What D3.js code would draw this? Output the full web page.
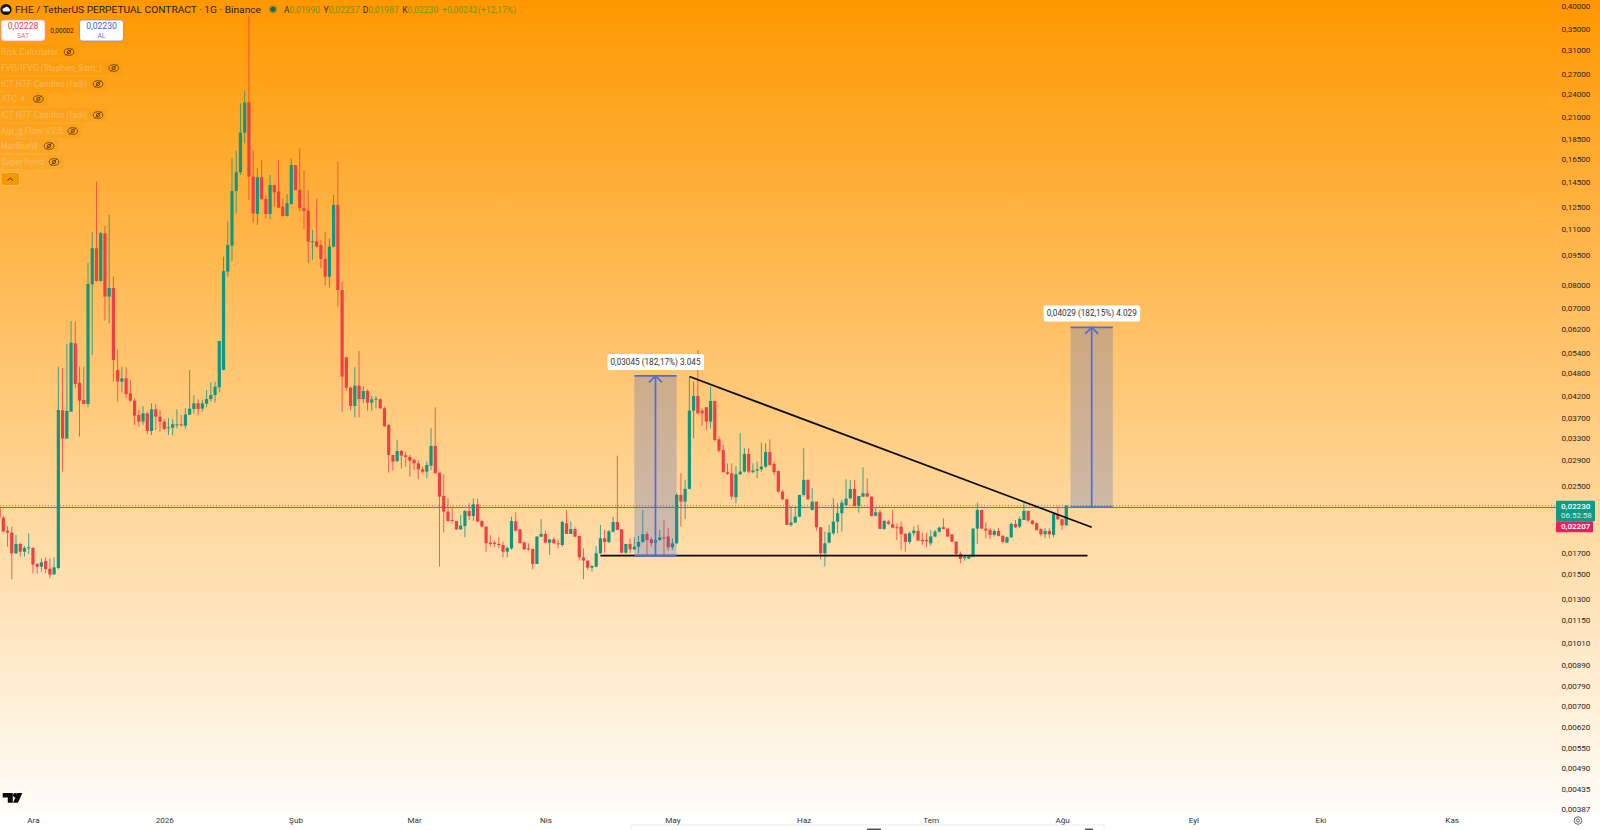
<!DOCTYPE html>
<html><head><meta charset="utf-8"><style>html,body{margin:0;padding:0;background:#fff;overflow:hidden}svg{display:block}text{font-family:Roboto,"Open Sans",sans-serif}</style>
<script src="https://cdn.jsdelivr.net/npm/d3@7"></script></head><body><svg id="c" width="1600" height="830"></svg>
<script>
const firstDay = "2025-11-23";
const opens = [0.02196,0.02081,0.01931,0.01909,0.01694,0.01788,0.01710,0.01743,0.01747,0.01593,0.01568,0.01620,0.01550,0.01500,0.01556,0.03868,0.03284,0.03838,0.05694,0.04537,0.04105,0.04012,
0.08007,0.09857,0.08162,0.10748,0.07457,0.07839,0.04882,0.04564,0.04652,0.04266,0.04090,0.03765,0.03623,0.03801,0.03433,0.03890,0.03729,0.03623,0.03486,0.03499,0.03547,0.03567,
0.03540,0.03772,0.03897,0.04027,0.03905,0.04019,0.04129,0.04226,0.04417,0.04883,0.08614,0.10010,0.13724,0.15286,0.19220,0.22899,0.14909,0.12018,0.14851,0.13105,0.12018,0.14208,
0.13672,0.12538,0.11880,0.12732,0.15947,0.13804,0.12417,0.12251,0.10224,0.10263,0.10048,0.09268,0.08369,0.09952,0.12659,0.07749,0.05252,0.04408,0.03966,0.04460,0.04129,0.04324,
0.04043,0.04121,0.04121,0.03913,0.03554,0.02988,0.02887,0.03058,0.02983,0.02954,0.02903,0.02848,0.02751,0.02714,0.02810,0.03148,0.02699,0.02358,0.02155,0.02053,0.02041,0.01946,
0.01983,0.02163,0.02101,0.02248,0.02041,0.01976,0.01801,0.01801,0.01788,0.01777,0.01710,0.01743,0.02038,0.01946,0.01805,0.01743,0.01737,0.01593,0.01865,0.01894,0.01801,0.01836,
0.01795,0.01777,0.02014,0.01894,0.01949,0.01872,0.01655,0.01624,0.01559,0.01568,0.01694,0.01847,0.01808,0.01920,0.02030,0.01946,0.01700,0.01788,0.01733,0.01760,0.01808,0.01894,
0.01836,0.01801,0.01829,0.01858,0.01866,0.01754,0.01795,0.02373,0.02283,0.02457,0.03862,0.04203,0.03862,0.03937,0.03624,0.04083,0.03272,0.03077,0.02705,0.02689,0.02341,0.02674,
0.02715,0.03007,0.02705,0.02731,0.02752,0.02795,0.03042,0.02838,0.02726,0.02419,0.02314,0.01996,0.02023,0.02094,0.02373,0.02588,0.02176,0.02283,0.01969,0.01694,0.01802,0.01902,
0.02034,0.02135,0.02236,0.02328,0.02457,0.02227,0.02350,0.02396,0.02350,0.02106,0.02147,0.01950,0.02034,0.02003,0.01969,0.01976,0.01895,0.01809,0.01902,0.01928,0.01830,0.01830,
0.01795,0.01866,0.01920,0.01969,0.01954,0.01891,0.01812,0.01688,0.01646,0.01643,0.01662,0.01954,0.02176,0.01954,0.01939,0.01884,0.01928,0.01873,0.01802,0.01858,0.02007,0.01976,
0.02054,0.02164,0.02046,0.02015,0.01946,0.01891,0.01928,0.01884,0.02122,0.02062,0.01990];
const highs = [0.02196,0.02101,0.01983,0.01976,0.01883,0.01801,0.01767,0.01901,0.01754,0.01599,0.01646,0.01655,0.01646,0.01655,0.04977,0.04929,0.05672,0.06478,0.06453,0.04977,0.04977,0.09055,
0.10811,0.14484,0.10852,0.11213,0.11949,0.08369,0.05500,0.04977,0.04958,0.04608,0.04145,0.03875,0.03966,0.03838,0.04027,0.04012,0.03875,0.03672,0.03693,0.03672,0.03890,0.03765,
0.03913,0.04882,0.04226,0.04121,0.04105,0.04349,0.04546,0.04564,0.05772,0.09394,0.11497,0.16573,0.17323,0.22768,0.24495,0.37552,0.17390,0.15643,0.16414,0.13411,0.15053,0.14208,
0.16414,0.13155,0.13489,0.16573,0.15947,0.17558,0.15434,0.13804,0.10957,0.13155,0.10303,0.10852,0.10443,0.13411,0.16257,0.08131,0.05272,0.04434,0.04958,0.05448,0.04451,0.04366,
0.04201,0.04201,0.04145,0.03950,0.03574,0.02988,0.03259,0.03076,0.03035,0.02988,0.02931,0.02903,0.02794,0.02876,0.03486,0.03935,0.02699,0.02673,0.02327,0.02218,0.02041,0.02113,
0.02175,0.02263,0.02327,0.02318,0.02053,0.01976,0.01883,0.01822,0.01858,0.01812,0.01760,0.02093,0.02146,0.01946,0.01812,0.01795,0.01737,0.01872,0.02065,0.01931,0.01836,0.01858,
0.01836,0.02041,0.02175,0.02034,0.01968,0.01872,0.01743,0.01624,0.01584,0.01767,0.01995,0.01938,0.01938,0.02093,0.02977,0.01946,0.01788,0.01847,0.01858,0.01872,0.02175,0.01920,
0.01865,0.01865,0.01938,0.02053,0.01958,0.01848,0.02396,0.02689,0.02588,0.04681,0.04565,0.05481,0.03914,0.03937,0.04435,0.04083,0.03323,0.03167,0.02849,0.02849,0.02805,0.03388,
0.03107,0.03107,0.02849,0.02877,0.03210,0.03198,0.03272,0.02877,0.02726,0.02442,0.02314,0.02227,0.02218,0.02373,0.03107,0.02598,0.02466,0.02283,0.01969,0.01920,0.01996,0.02328,
0.02262,0.02305,0.02598,0.02588,0.02588,0.02359,0.02784,0.02613,0.02350,0.02197,0.02176,0.02054,0.02054,0.02176,0.02015,0.02034,0.01902,0.01920,0.01976,0.01996,0.01909,0.01909,
0.01939,0.01939,0.01976,0.02074,0.01954,0.01884,0.01812,0.01711,0.01678,0.01669,0.01954,0.02270,0.02176,0.02023,0.01958,0.01946,0.01958,0.01884,0.01866,0.02023,0.02054,0.02094,
0.02262,0.02164,0.02054,0.02023,0.01958,0.01958,0.01958,0.02143,0.02218,0.02074,0.02237];
const lows = [0.02081,0.01909,0.01760,0.01458,0.01687,0.01662,0.01662,0.01687,0.01509,0.01509,0.01524,0.01509,0.01466,0.01495,0.01544,0.02714,0.03284,0.03838,0.04391,0.03322,0.04012,0.03935,
0.05324,0.08131,0.08131,0.06492,0.06393,0.04565,0.04066,0.04291,0.04145,0.04066,0.03554,0.03520,0.03554,0.03374,0.03354,0.03452,0.03419,0.03452,0.03354,0.03354,0.03486,0.03520,
0.03486,0.03765,0.03801,0.03750,0.03838,0.03935,0.04066,0.04043,0.04291,0.04883,0.08369,0.09162,0.12064,0.15053,0.18072,0.13029,0.11431,0.11278,0.13029,0.11721,0.11653,0.12538,
0.12417,0.11834,0.11834,0.12659,0.13751,0.12181,0.11000,0.09039,0.09215,0.09914,0.08782,0.07976,0.07854,0.09914,0.07038,0.03839,0.04324,0.03875,0.03707,0.03714,0.04027,0.03860,
0.03860,0.03913,0.03890,0.03520,0.02699,0.02730,0.02865,0.02767,0.02794,0.02637,0.02740,0.02597,0.02688,0.02612,0.02740,0.02688,0.01568,0.01909,0.02034,0.02014,0.01938,0.01938,
0.01858,0.02053,0.02045,0.02034,0.01968,0.01710,0.01760,0.01754,0.01743,0.01655,0.01655,0.01727,0.01920,0.01795,0.01727,0.01720,0.01544,0.01593,0.01858,0.01795,0.01678,0.01788,
0.01743,0.01760,0.01894,0.01894,0.01858,0.01624,0.01458,0.01538,0.01524,0.01562,0.01687,0.01700,0.01795,0.01909,0.01938,0.01694,0.01687,0.01694,0.01727,0.01694,0.01801,0.01678,
0.01760,0.01678,0.01822,0.01662,0.01721,0.01727,0.01788,0.01976,0.02062,0.02452,0.03291,0.03766,0.03534,0.03454,0.03487,0.03229,0.03030,0.02700,0.02663,0.02305,0.02262,0.02663,
0.02700,0.02689,0.02689,0.02613,0.02715,0.02768,0.02805,0.02663,0.02405,0.02305,0.01996,0.01976,0.02015,0.02086,0.02350,0.02305,0.02168,0.01931,0.01637,0.01569,0.01795,0.01884,
0.01902,0.01920,0.02227,0.02314,0.02218,0.02143,0.02341,0.02341,0.02094,0.02094,0.01946,0.01939,0.01996,0.01958,0.01830,0.01727,0.01711,0.01788,0.01866,0.01816,0.01778,0.01754,
0.01768,0.01858,0.01909,0.01946,0.01858,0.01806,0.01678,0.01599,0.01624,0.01637,0.01656,0.01788,0.01946,0.01848,0.01837,0.01866,0.01866,0.01795,0.01795,0.01848,0.01958,0.01958,
0.02054,0.02034,0.01996,0.01931,0.01866,0.01848,0.01848,0.01858,0.02054,0.01939,0.01987];
const closes = [0.02081,0.01923,0.01909,0.01694,0.01788,0.01710,0.01747,0.01754,0.01587,0.01568,0.01608,0.01547,0.01498,0.01562,0.03875,0.03290,0.03853,0.05716,0.04503,0.04090,0.04012,0.08021,
0.09857,0.08162,0.10748,0.07457,0.07839,0.05173,0.04564,0.04652,0.04250,0.04090,0.03750,0.03623,0.03801,0.03433,0.03890,0.03729,0.03623,0.03472,0.03506,0.03567,0.03567,0.03554,
0.03779,0.03905,0.04027,0.03897,0.04027,0.04129,0.04226,0.04434,0.05772,0.08648,0.10048,0.13724,0.15286,0.19220,0.22899,0.14909,0.12064,0.14851,0.13105,0.12018,0.14208,0.13619,
0.12465,0.11880,0.12781,0.15947,0.13804,0.12417,0.12228,0.10244,0.10263,0.09952,0.09268,0.08369,0.09952,0.12659,0.07749,0.04698,0.04408,0.03966,0.04460,0.04129,0.04324,0.04043,
0.04121,0.04137,0.03913,0.03526,0.02988,0.02876,0.03058,0.02977,0.02954,0.02892,0.02848,0.02751,0.02714,0.02821,0.03148,0.02688,0.02349,0.02155,0.02041,0.02041,0.01946,0.01987,
0.02163,0.02101,0.02248,0.02034,0.01976,0.01795,0.01788,0.01788,0.01777,0.01710,0.01747,0.02041,0.01931,0.01795,0.01733,0.01733,0.01593,0.01865,0.01894,0.01801,0.01836,0.01795,
0.01784,0.02030,0.01894,0.01949,0.01865,0.01655,0.01624,0.01559,0.01574,0.01694,0.01847,0.01808,0.01923,0.02030,0.01938,0.01700,0.01788,0.01733,0.01760,0.01808,0.01890,0.01829,
0.01795,0.01829,0.01858,0.01847,0.01754,0.01795,0.02373,0.02283,0.02457,0.03862,0.04203,0.03803,0.03803,0.03624,0.04083,0.03260,0.03065,0.02705,0.02679,0.02350,0.02674,0.02715,
0.03007,0.02715,0.02731,0.02752,0.02795,0.03042,0.02822,0.02705,0.02419,0.02314,0.01995,0.02023,0.02094,0.02373,0.02588,0.02314,0.02283,0.01969,0.01694,0.01795,0.01909,0.02034,
0.02135,0.02270,0.02323,0.02456,0.02227,0.02359,0.02396,0.02350,0.02102,0.02147,0.01950,0.02042,0.02007,0.01965,0.01958,0.01891,0.01809,0.01902,0.01931,0.01823,0.01816,0.01816,
0.01866,0.01920,0.01965,0.01950,0.01866,0.01812,0.01688,0.01640,0.01656,0.01662,0.01954,0.02176,0.01954,0.01931,0.01884,0.01927,0.01873,0.01809,0.01858,0.02007,0.01969,0.02066,
0.02164,0.02046,0.02007,0.01939,0.01891,0.01927,0.01891,0.02126,0.02062,0.01990,0.02230];

const priceTicks = [0.4,0.35,0.31,0.27,0.24,0.21,0.185,0.165,0.145,0.125,0.11,0.095,0.08,0.07,0.062,0.054,0.048,0.042,0.037,0.033,0.029,0.025,0.017,0.015,0.013,0.0115,0.0101,0.0089,0.0079,0.007,0.0062,0.0055,0.0049,0.00435,0.00387];
const monthDates = ["2025-12-01","2026-01-01","2026-02-01","2026-03-01","2026-04-01","2026-05-01","2026-06-01","2026-07-01","2026-08-01","2026-09-01","2026-10-01","2026-11-01"];
const monthLabels = ["Ara","2026","Şub","Mar","Nis","May","Haz","Tem","Ağu","Eyl","Eki","Kas"];
const lastPrice = 0.0223, markPrice = 0.02207, countdown = "06:52:58";
const title = "FHE / TetherUS PERPETUAL CONTRACT · 1G · Binance";
const ohlcLegend = [["A","0,01990"],["Y","0,02237"],["D","0,01987"],["K","0,02230"]];
const ohlcChange = ["+0,00242","(+12,17%)"];
const indicators = ["Risk Calculator","FVG/IFVG (Stephen_Sam_)","ICT HTF Candles (fadi)","ATC ✦","ICT HTF Candles (fadi)","Alp_g Flow V2.5","MacBlueW","SuperTrend"];
const measures = [
 {from:"2026-04-22",to:"2026-05-02",low:0.01671,high:0.04716,label:"0,03045 (182,17%) 3.045"},
 {from:"2026-08-03",to:"2026-08-13",low:0.02212,high:0.06241,label:"0,04029 (182,15%) 4.029"}];
const trendLines = [
 {from:"2026-05-05",to:"2026-08-08",p0:0.0470,p1:0.01969},
 {from:"2026-04-14",to:"2026-08-07",p0:0.01671,p1:0.01671}];

const W=1600,H=830;
const day=s=>new Date(s+"T00:00:00Z");
const dates=opens.map((_,i)=>d3.utcDay.offset(day(firstDay),i));
const x=d3.scaleUtc().domain([day("2025-11-24"),day("2026-11-01")]).range([3.3,3.3+4.235*342]);
const y=d3.scaleLog().domain([0.4,0.00387]).range([5.7,809]);
const svg=d3.select("#c");
const defs=svg.append("defs");
const g=defs.append("linearGradient").attr("id","bg").attr("x1",0).attr("y1",0).attr("x2",0).attr("y2",1);
g.append("stop").attr("offset",0).attr("stop-color","#ff9800");
g.append("stop").attr("offset",1).attr("stop-color","#fffdf9");
svg.append("rect").attr("width",W).attr("height",812).attr("fill","url(#bg)");
svg.append("rect").attr("y",812).attr("width",W).attr("height",18).attr("fill","#fff");
defs.append("clipPath").attr("id","pane").append("rect").attr("width",1556).attr("height",812);

const UP="#12977f",DOWN="#ef3f45";
const pane=svg.append("g").attr("clip-path","url(#pane)");
pane.append("line").attr("x1",0).attr("x2",1556).attr("y1",y(lastPrice)).attr("y2",y(lastPrice)).attr("stroke","#4a7a5a").attr("stroke-width",1).attr("stroke-dasharray","1 2").attr("opacity",.8);
pane.append("line").attr("x1",0).attr("x2",1556).attr("y1",y(markPrice)).attr("y2",y(markPrice)).attr("stroke","#e91e63").attr("stroke-width",1).attr("opacity",.85);
const cs=pane.append("g").selectAll("g").data(d3.range(opens.length)).join("g");
cs.append("line").attr("x1",i=>x(dates[i])).attr("x2",i=>x(dates[i])).attr("y1",i=>y(highs[i])).attr("y2",i=>y(lows[i]))
  .attr("stroke",i=>closes[i]>=opens[i]?UP:DOWN).attr("stroke-width",1).attr("opacity",.8);
cs.append("rect").attr("x",i=>x(dates[i])-1.6).attr("width",3.2)
  .attr("y",i=>y(Math.max(opens[i],closes[i])))
  .attr("height",i=>Math.max(1,y(Math.min(opens[i],closes[i]))-y(Math.max(opens[i],closes[i]))))
  .attr("fill",i=>closes[i]>=opens[i]?UP:DOWN);
pane.selectAll(".tl").data(trendLines).join("line").attr("x1",d=>x(day(d.from))).attr("x2",d=>x(day(d.to))).attr("y1",d=>y(d.p0)).attr("y2",d=>y(d.p1)).attr("stroke","#0b0b0b").attr("stroke-width",1.7);
const BL="#4a6fdc";
const ms=pane.selectAll(".m").data(measures).join("g");
ms.append("rect").attr("x",d=>x(day(d.from))).attr("width",d=>x(day(d.to))-x(day(d.from))).attr("y",d=>y(d.high)).attr("height",d=>y(d.low)-y(d.high)).attr("fill","#3d62c8").attr("opacity",.26);
ms.each(function(d){
  const s=d3.select(this),a=x(day(d.from)),b=x(day(d.to)),m=(a+b)/2,t=y(d.high),u=y(d.low);
  for(const yy of [t,u]) s.append("line").attr("x1",a).attr("x2",b).attr("y1",yy).attr("y2",yy).attr("stroke",BL).attr("stroke-width",1.7);
  s.append("line").attr("x1",m).attr("x2",m).attr("y1",t).attr("y2",u).attr("stroke",BL).attr("stroke-width",1.7);
  s.append("path").attr("d",`M${m-6.5} ${t+6.5}L${m} ${t}L${m+6.5} ${t+6.5}`).attr("fill","none").attr("stroke",BL).attr("stroke-width",1.7);
  s.append("rect").attr("x",m-48).attr("width",96.5).attr("y",t-22).attr("height",16).attr("rx",2).attr("fill","#fff");
  s.append("text").attr("x",m).attr("y",t-14).attr("dy","0.35em").attr("text-anchor","middle").attr("font-size",8.2).attr("fill","#333").text(d.label);
});
const yAxis=d3.axisRight(y).tickValues(priceTicks).tickSize(0).tickPadding(0).tickFormat(v=>v.toFixed(5).replace(".",","));
const ya=svg.append("g").attr("transform","translate(1561.5,0)").call(yAxis);
ya.select(".domain").remove();
ya.selectAll("text").attr("font-size",8.1).attr("font-family","Roboto").attr("fill","#2b2320");
const xAxis=d3.axisBottom(x).tickValues(monthDates.map(day)).tickSize(0).tickPadding(0).tickFormat((d,i)=>monthLabels[i]);
const xa=svg.append("g").attr("transform","translate(0,817.5)").call(xAxis);
xa.select(".domain").remove();
xa.selectAll("text").attr("font-size",8.1).attr("font-family","Roboto").attr("fill","#333");
const tagX=1556;
svg.append("rect").attr("x",tagX).attr("y",y(lastPrice)-5).attr("width",39).attr("height",20.5).attr("rx",1).attr("fill","#0e9a84");
svg.append("rect").attr("x",tagX).attr("y",y(lastPrice)+15.5).attr("width",37).attr("height",11).attr("rx",1).attr("fill","#e91e63");
svg.append("text").attr("x",tagX+5).attr("y",y(lastPrice)+.5).attr("dy","0.35em").attr("font-size",8.1).attr("font-weight",500).attr("fill","#fff").text(lastPrice.toFixed(5).replace(".",","));
svg.append("text").attr("x",tagX+5).attr("y",y(lastPrice)+10).attr("dy","0.35em").attr("font-size",8).attr("fill","#d6f2ec").text(countdown);
svg.append("text").attr("x",tagX+5).attr("y",y(markPrice)+19).attr("dy","0.35em").attr("font-size",8.1).attr("font-weight",500).attr("fill","#fff").text(markPrice.toFixed(5).replace(".",","));
svg.append("circle").attr("cx",6).attr("cy",9.5).attr("r",5.6).attr("fill","#14141c");
svg.append("path").attr("d","M2.5 10.5a2 2 0 0 1 2-2.6a2.6 2.6 0 0 1 4.6 .6a1.6 1.6 0 0 1 0 3h-5.4z").attr("fill","#dff1ff");
svg.append("text").attr("x",15).attr("y",9.6).attr("dy","0.35em").attr("font-size",9.6).attr("fill","#241a12").attr("textLength",246).attr("lengthAdjust","spacingAndGlyphs").text(title);
svg.append("circle").attr("cx",273).attr("cy",9.3).attr("r",4.3).attr("fill","#0c7a5f").attr("opacity",.3);
svg.append("circle").attr("cx",273).attr("cy",9.3).attr("r",2.6).attr("fill","#0b6e50");
const VAL="#6f961a";
ohlcLegend.forEach(([k,v],i)=>{
  const ox=284+i*39.4;
  svg.append("text").attr("x",ox).attr("y",9.6).attr("dy","0.35em").attr("font-size",8.6).attr("fill","#3a2a12").text(k);
  svg.append("text").attr("x",ox+5.4).attr("y",9.6).attr("dy","0.35em").attr("font-size",8.6).attr("fill",VAL).text(v);
});
svg.append("text").attr("x",442).attr("y",9.6).attr("dy","0.35em").attr("font-size",8.6).attr("fill",VAL).text(ohlcChange[0]);
svg.append("text").attr("x",478).attr("y",9.6).attr("dy","0.35em").attr("font-size",8.6).attr("fill",VAL).text(ohlcChange[1]);
const btn=(bx,w,val,lab,col,bd)=>{
  svg.append("rect").attr("x",bx).attr("y",20).attr("width",w).attr("height",21).attr("rx",3).attr("fill","#fff").attr("stroke",bd).attr("stroke-width",.8);
  svg.append("text").attr("x",bx+w/2).attr("y",26).attr("dy","0.35em").attr("text-anchor","middle").attr("font-size",8.6).attr("fill",col).text(val);
  svg.append("text").attr("x",bx+w/2).attr("y",35.3).attr("dy","0.35em").attr("text-anchor","middle").attr("font-size",6.8).attr("fill",col).attr("opacity",.8).text(lab);
};
btn(1,44,"0,02228","SAT","#e0405e","#f59aa8");
btn(79.5,44,"0,02230","AL","#3d66d0","#7f8fc0");
svg.append("text").attr("x",62).attr("y",30.5).attr("dy","0.35em").attr("text-anchor","middle").attr("font-size",6.6).attr("fill","#2a2014").text("0,00002");
const rowY=[52,68,84,99,115,131,146,162], eyeX=[69,113.7,98,38.3,98,72.7,49,54], textW=[57,101,86,26,86,62,37,43];
indicators.forEach((t,i)=>{
  svg.append("rect").attr("x",0).attr("y",rowY[i]-7).attr("width",eyeX[i]+9).attr("height",14).attr("rx",2).attr("fill","#f09000").attr("opacity",.22);
  svg.append("text").attr("x",1).attr("y",rowY[i]).attr("dy","0.35em").attr("font-size",8.8).attr("fill","#f4cf90").attr("opacity",.58).attr("textLength",textW[i]).attr("lengthAdjust","spacingAndGlyphs").text(t);
  const e=svg.append("g").attr("transform",`translate(${eyeX[i]},${rowY[i]})`).attr("fill","none").attr("stroke","#5a3810").attr("stroke-width",.8);
  e.append("ellipse").attr("rx",4.8).attr("ry",3.3);
  e.append("circle").attr("r",1.7);
  e.append("line").attr("x1",-3.4).attr("y1",3.4).attr("x2",3.4).attr("y2",-3.4);
});
svg.append("rect").attr("x",1).attr("y",172.5).attr("width",18.5).attr("height",13).attr("rx",2).attr("fill","#f99700").attr("stroke","#ffcb7d").attr("stroke-width",.7);
svg.append("path").attr("d","M7.5 180.5l2.7-2.4l2.7 2.4").attr("fill","none").attr("stroke","#4b2d05").attr("stroke-width",1);
svg.append("path").attr("d","M2.7 793H12.8V802.8H7.8V797.6H2.7Z").attr("fill","#0c0c0c");
svg.append("circle").attr("cx",15.2).attr("cy",795.3).attr("r",2.2).attr("fill","#0c0c0c");
svg.append("path").attr("d","M17.2 793H22.3L18 802.8H13Z").attr("fill","#0c0c0c");
svg.append("rect").attr("x",631).attr("y",825).attr("width",473).attr("height",8).attr("fill","#fff").attr("stroke","#e6e6e6").attr("stroke-width",.8);
[[867,14],[1085,8]].forEach(([a,w])=>svg.append("rect").attr("x",a).attr("y",828.6).attr("width",w).attr("height",1.4).attr("fill","#444"));
svg.append("circle").attr("cx",1578).attr("cy",820.5).attr("r",3.8).attr("fill","none").attr("stroke","#444").attr("stroke-width",.8);
svg.append("circle").attr("cx",1578).attr("cy",820.5).attr("r",1.5).attr("fill","none").attr("stroke","#444").attr("stroke-width",.8);
</script></body></html>
